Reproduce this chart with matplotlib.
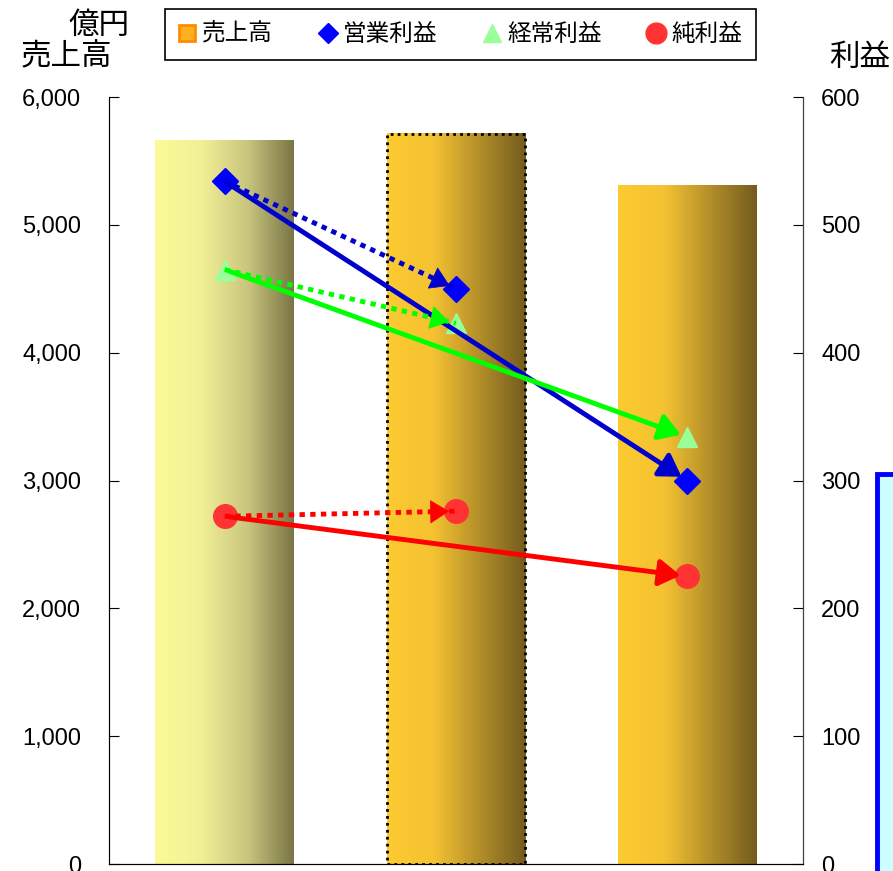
import numpy as np
import matplotlib
matplotlib.use("Agg")
import matplotlib.pyplot as plt
from matplotlib.patches import Rectangle, FancyArrowPatch
from matplotlib.colors import LinearSegmentedColormap
from matplotlib.lines import Line2D

plt.rcParams['font.family'] = ['Liberation Sans', 'Noto Sans CJK JP', 'DejaVu Sans']

# ---- data ----
periods = ["A", "B", "C"]
sales = [5657, 5712, 5305]          # 売上高 (億円)
op_profit = [534, 450, 300]          # 営業利益
ord_profit = [465, 423, 334]         # 経常利益
net_profit = [272, 276, 225]         # 純利益
left_ticks = [0, 1000, 2000, 3000, 4000, 5000, 6000]
left_ticklabels = ["0", "1,000", "2,000", "3,000", "4,000", "5,000", "6,000"]
right_ticks = [0, 100, 200, 300, 400, 500, 600]
legend_labels = ["売上高", "営業利益", "経常利益", "純利益"]

fig = plt.figure(figsize=(8.93, 8.71), dpi=100)
ax = fig.add_axes([109/893, 1-864/871, (803-109)/893, (864-97)/871])
ax2 = ax.twinx()

x = np.arange(len(periods))
bars = ax.bar(x, sales, width=0.6, color='none', edgecolor='none', zorder=1)

grads = [
    LinearSegmentedColormap.from_list("g1", ["#FBFB96", "#F2F096", "#C9C67E", "#7A7546"]),
    LinearSegmentedColormap.from_list("g2", ["#FCCA30", "#F5C232", "#B38F2A", "#735B1E"]),
    LinearSegmentedColormap.from_list("g3", ["#FCCA30", "#F5C232", "#B38F2A", "#735B1E"]),
]
grad = np.linspace(0, 1, 256).reshape(1, -1)
for b, cm in zip(bars, grads):
    x0, w, h = b.get_x(), b.get_width(), b.get_height()
    ax.imshow(grad, cmap=cm, extent=(x0, x0 + w, 0, h), aspect='auto', zorder=1,
              interpolation='bilinear')
b = bars[1]
ax.add_patch(Rectangle((b.get_x(), 0), b.get_width(), b.get_height(), fill=False,
                       edgecolor='black', linestyle=(0, (1, 1.5)), linewidth=2, zorder=2))

ax.set_xlim(-0.5, 2.5)
ax.set_ylim(0, 6000)
ax2.set_ylim(0, 600)
ax.set_yticks(left_ticks)
ax.set_yticklabels(left_ticklabels)
ax2.set_yticks(right_ticks)
ax.set_xticks([])
for a in (ax, ax2):
    a.spines['top'].set_visible(False)
ax.tick_params(axis='y', direction='in', length=7, pad=20, labelsize=17)
ax2.tick_params(axis='y', direction='in', length=7, pad=13, labelsize=17)
ax.spines['left'].set_color('#404040')
ax2.spines['right'].set_color('#404040')
ax.spines['bottom'].set_color('black')

series = [
    (op_profit, '#0000CC', 'D', '#0000FF', 13),
    (ord_profit, '#00FF00', '^', '#99FF99', 15),
    (net_profit, '#FF0000', 'o', '#FF3333', 17),
]
for vals, lc, mk, mc, ms in series:
    # dotted shaft first -> second
    ax2.plot([x[0], x[1]], [vals[0], vals[1]], linestyle=(0, (1.1, 1.1)), linewidth=3.5,
             color=lc, dash_capstyle='butt', zorder=4)
    # head only for dotted arrow
    t = 0.9
    p_start = (x[0] + t * (x[1] - x[0]), vals[0] + t * (vals[1] - vals[0]))
    ax2.add_patch(FancyArrowPatch(p_start, (x[1], vals[1]),
                                  arrowstyle='-|>,head_length=8,head_width=5',
                                  linewidth=0.5, color=lc, shrinkA=0, shrinkB=5,
                                  zorder=4, mutation_scale=1.6))
    # solid arrow first -> third
    ax2.add_patch(FancyArrowPatch((x[0], vals[0]), (x[2], vals[2]),
                                  arrowstyle='-|>,head_length=8,head_width=5',
                                  linewidth=3.5, color=lc, shrinkA=4, shrinkB=5,
                                  zorder=4, mutation_scale=1.6))
    ax2.plot(x, vals, linestyle='none', marker=mk, color=mc, markersize=ms, zorder=3)

# titles
jp = ['Noto Sans CJK JP']
fig.text(99/893, 1-25/871, "億円", fontsize=22, ha='center', va='center', family=jp)
fig.text(66/893, 1-57/871, "売上高", fontsize=22, ha='center', va='center', family=jp)
fig.text(860/893, 1-57/871, "利益", fontsize=22, ha='center', va='center', family=jp)

# legend
handles = [
    Line2D([], [], linestyle='none', marker='s', markersize=11, markerfacecolor='#FFB020',
           markeredgecolor='#FF8C00', markeredgewidth=2),
    Line2D([], [], linestyle='none', marker='D', markersize=10, color='#0000FF'),
    Line2D([], [], linestyle='none', marker='^', markersize=13, color='#99FF99'),
    Line2D([], [], linestyle='none', marker='o', markersize=15, color='#FF3333'),
]
leg = fig.legend(handles, legend_labels, loc='center', ncol=4,
                 bbox_to_anchor=((167+754)/2/893, 1-34.5/871),
                 prop={'family': jp, 'size': 17},
                 frameon=True, fancybox=False, edgecolor='black', framealpha=1,
                 handlelength=0.7, handletextpad=0.3, columnspacing=1.95,
                 borderpad=0.6, borderaxespad=0)
leg.get_frame().set_linewidth(1.2)

# partially visible box at right edge
fig.patches.append(Rectangle((877/893, -0.1), 0.2, (871-474)/871 + 0.1,
                             transform=fig.transFigure, facecolor='#CCFFFF',
                             edgecolor='#0000FF', linewidth=3.5))

fig.savefig("out.png", dpi=100)
